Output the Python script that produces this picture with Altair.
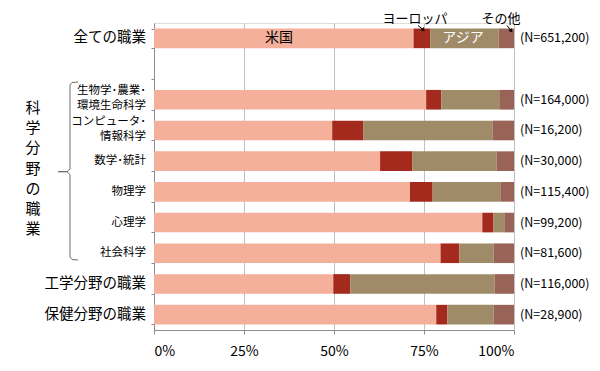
import altair as alt
import pandas as pd

FONT = "Noto Sans CJK JP"

# ---- data ----
cats = ["全ての職業", "_gap", "生物学･農業･\n環境生命科学", "コンピュータ･\n情報科学", "数学･統計",
        "物理学", "心理学", "社会科学", "工学分野の職業", "保健分野の職業"]
label_sizes = [14.5, 11.5, 11.5, 11.5, 11.5, 11.5, 11.5, 11.5, 14.5, 14.5]
n_labels = ["(N=651,200)", "", "(N=164,000)", "(N=16,200)", "(N=30,000)", "(N=115,400)",
            "(N=99,200)", "(N=81,600)", "(N=116,000)", "(N=28,900)"]
series = ["米国", "ヨーロッパ", "アジア", "その他"]
colors = ["#F4B09B", "#A52A1E", "#A08B68", "#9A6357"]
us     = [72.1, None, 75.6, 49.5, 62.8, 71.1, 91.2, 79.6, 49.8, 78.4]
europe = [4.6,  None, 4.2,  8.7,  9.0,  6.3,  3.1,  5.2,  4.7,  3.1]
asia   = [19.0, None, 16.1, 35.8, 23.4, 18.8, 3.0,  9.5,  40.1, 12.8]
other  = [4.3,  None, 4.1,  6.0,  4.8,  3.8,  2.7,  5.7,  5.4,  5.7]
x_ticks = [0, 0.25, 0.5, 0.75, 1.0]

rows = []
for i, c in enumerate(cats):
    for j, (s, vals) in enumerate(zip(series, [us, europe, asia, other])):
        if vals[i] is not None:
            rows.append({"cat": c, "series": s, "value": vals[i], "ord": j})
bars_df = pd.DataFrame(rows)

single, top_l, bot_l = [], [], []
for c, fs, n in zip(cats, label_sizes, n_labels):
    if c == "_gap":
        continue
    parts = c.split("\n")
    if len(parts) == 1:
        single.append({"cat": c, "t": c, "fs": fs})
    else:
        top_l.append({"cat": c, "t": parts[0], "fs": fs})
        bot_l.append({"cat": c, "t": parts[1], "fs": fs})
n_df = pd.DataFrame({"cat": cats, "n": n_labels})

yscale = alt.Scale(domain=cats, paddingInner=0.36, paddingOuter=0.18)
Y = alt.Y("cat:N", sort=cats, scale=yscale,
          axis=alt.Axis(labels=False, title=None, domainColor="#8C8C8C", tickColor="#8C8C8C",
                        tickBand="extent", tickSize=3, grid=False))
Ys = alt.Y("cat:N", sort=cats, scale=yscale)

bars = alt.Chart(bars_df).mark_bar().encode(
    x=alt.X("value:Q", stack="normalize",
            scale=alt.Scale(domain=[0, 1], nice=False),
            axis=alt.Axis(values=x_ticks, format=".0%", title=None, grid=True,
                          gridColor="#BFBFBF", domainColor="#8C8C8C", tickColor="#8C8C8C",
                          tickSize=4, labelFont=FONT, labelFontSize=14, labelColor="#000",
                          labelPadding=10)),
    y=Y,
    color=alt.Color("series:N", scale=alt.Scale(domain=series, range=colors), legend=None),
    order=alt.Order("ord:Q"),
)


def left_text(rows_, dy):
    return alt.Chart(pd.DataFrame(rows_)).mark_text(
        align="right", baseline="middle", font=FONT, color="#000", dy=dy
    ).encode(
        x=alt.value(-8), y=Ys, text="t:N", size=alt.Size("fs:Q", scale=None))


left1 = left_text(single, 0)
left2 = left_text(top_l, -8.5)
left3 = left_text(bot_l, 6.5)

n_text = alt.Chart(n_df).mark_text(
    align="left", baseline="middle", font=FONT, fontSize=12.5, color="#000"
).encode(x=alt.value(366), y=Ys, text="n:N")

# in-bar labels for the first row
inbar_df = pd.DataFrame({"cat": [cats[0], cats[0]], "t": ["米国", "アジア"],
                         "px": [125, 309], "c": ["#000000", "#FFFFFF"]})
inbar = alt.Chart(inbar_df).mark_text(baseline="middle", font=FONT, fontSize=14).encode(
    x=alt.X("px:Q", scale=None), y=Ys, text="t:N", color=alt.Color("c:N", scale=None))

# annotation labels above first bar
ann_df = pd.DataFrame({"t": ["ヨーロッパ", "その他"], "px": [261, 347], "py": [-4.5, -4.5],
                       "fs": [13, 13]})
ann = alt.Chart(ann_df).mark_text(baseline="middle", font=FONT, color="#000").encode(
    x=alt.X("px:Q", scale=None), y=alt.Y("py:Q", scale=None), text="t:N",
    size=alt.Size("fs:Q", scale=None))

arrow_df = pd.DataFrame({"x1": [264, 353], "y1": [2.5, 2.5], "x2": [269, 357], "y2": [6.5, 7.5],
                         "ang": [134, 144]})
arrow_lines = alt.Chart(arrow_df).mark_rule(color="#000", strokeWidth=1).encode(
    x=alt.X("x1:Q", scale=None), y=alt.Y("y1:Q", scale=None), x2="x2:Q", y2="y2:Q")
arrow_heads = alt.Chart(arrow_df).mark_point(shape="triangle", filled=True, color="#000",
                                             size=18, opacity=1).encode(
    x=alt.X("x2:Q", scale=None), y=alt.Y("y2:Q", scale=None),
    angle=alt.Angle("ang:Q", scale=None))

# vertical group label (first line is placed at y)
vert = alt.Chart(pd.DataFrame({"t": ["\n".join("科学分野の職業")]})).mark_text(
    align="center", baseline="middle", font=FONT, fontSize=15, lineBreak="\n",
    lineHeight=20.2, color="#000"
).encode(x=alt.value(-121), y=alt.value(85), text="t:N")

# bracket
bx = [78, 72, 70, 70, 67, 58, 67, 70, 70, 72, 78]
by = [82, 82.5, 85, 169, 171.7, 171.7, 171.7, 174.5, 257, 259.5, 260]
br_df = pd.DataFrame({"px": [v - 154 for v in bx], "py": [v - 23 for v in by],
                      "o": list(range(len(bx)))})
bracket = alt.Chart(br_df).mark_line(color="#6E6E6E", strokeWidth=1).encode(
    x=alt.X("px:Q", scale=None), y=alt.Y("py:Q", scale=None), order="o:Q")

chart = alt.layer(bars, left1, left2, left3, n_text, inbar, ann, arrow_lines, arrow_heads,
                  vert, bracket).properties(
    width=360, height=307,
    autosize=alt.AutoSizeParams(type="none"),
    padding={"left": 146, "top": 15, "right": 78, "bottom": 28},
).configure_view(stroke=None).configure(background="white")

chart.save("out.html", embed_options={"renderer": "svg", "actions": False})
